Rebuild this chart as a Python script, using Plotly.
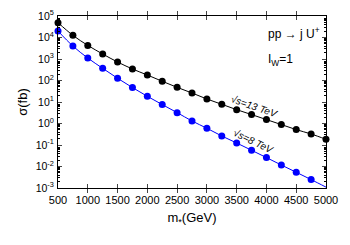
import plotly.graph_objects as go

# masse m* (GeV) e sezioni d'urto
mass = [500, 750, 1000, 1250, 1500, 1750, 2000, 2250, 2500, 2750,
        3000, 3250, 3500, 3750, 4000, 4250, 4500, 4750, 5000]
sigma_13 = [4.9e4, 1.26e4, 4.3e3, 1.71e3, 725, 343, 180, 92, 48, 26.2,
            13.8, 7.8, 4.4, 2.6, 1.52, 0.89, 0.52, 0.325, 0.184]
sigma_8 = [2.0e4, 4.0e3, 1.11e3, 369, 127, 47, 18.4, 7.6, 3.2, 1.31,
           0.60, 0.262, 0.124, 0.057, 0.026, 0.0117, 0.0054, 0.00246]
# curva 8 TeV prolungata fino a 5000 GeV (finisce sotto l'asse)
fit_mass_8 = mass
fit_sigma_8 = sigma_8 + [0.0011]

x_ticks = [500, 1000, 1500, 2000, 2500, 3000, 3500, 4000, 4500, 5000]
y_exps = [-3, -2, -1, 0, 1, 2, 3, 4, 5]
y_ticks = [10.0 ** e for e in y_exps]
y_labels = [f"10<sup>{e}</sup>" for e in y_exps]

FONT = "Liberation Sans, Arial, sans-serif"
BLUE = "#0000ff"

fig = go.Figure()

# curve
fig.add_trace(go.Scatter(x=mass, y=sigma_13, mode="lines", line_shape="spline",
                         line=dict(color="black", width=1), showlegend=False))
fig.add_trace(go.Scatter(x=fit_mass_8, y=fit_sigma_8, mode="lines", line_shape="spline",
                         line=dict(color=BLUE, width=1), showlegend=False))
# punti
fig.add_trace(go.Scatter(x=mass, y=sigma_13, mode="markers", cliponaxis=False,
                         marker=dict(color="black", size=7), showlegend=False))
fig.add_trace(go.Scatter(x=mass[:len(sigma_8)], y=sigma_8, mode="markers", cliponaxis=False,
                         marker=dict(color=BLUE, size=7), showlegend=False))
# traccia invisibile per l'asse destro (tacche minori a specchio)
fig.add_trace(go.Scatter(x=mass, y=sigma_13, yaxis="y2", mode="lines",
                         line=dict(width=0), hoverinfo="skip", showlegend=False))

# etichette nel pannello
fig.add_annotation(x=0.777, y=4.2, xref="paper", yref="y", text="pp → j U<sup>+</sup>",
                   showarrow=False, xanchor="left", font=dict(size=12, color="black"))
fig.add_annotation(x=0.777, y=2.95, xref="paper", yref="y", text="I<sub>W</sub>=1",
                   showarrow=False, xanchor="left", font=dict(size=12, color="black"))
fig.add_annotation(x=3800, y=0.80, text="<i>√s=13 TeV</i>", showarrow=False,
                   textangle=19, font=dict(size=10, color="black"))
fig.add_annotation(x=3790, y=-0.83, text="<i>√s=8 TeV</i>", showarrow=False,
                   textangle=26, font=dict(size=10, color="black"))

fig.update_xaxes(range=[500, 5000], tickvals=x_ticks, ticks="inside", ticklen=4,
                 mirror="allticks", showline=True, linecolor="black", linewidth=1,
                 showgrid=False, zeroline=False, tickfont=dict(size=11),
                 automargin=False, ticklabelstandoff=2,
                 title=dict(text="m<sub>*</sub>(GeV)", font=dict(size=13), standoff=7))
fig.update_layout(
    yaxis=dict(type="log", range=[-3, 5], tickvals=y_ticks, ticktext=y_labels,
               ticks="inside", ticklen=4, mirror="allticks", showline=True,
               linecolor="black", linewidth=1, showgrid=False, zeroline=False,
               tickfont=dict(size=10.5), automargin=False, ticklabelstandoff=1,
               minor=dict(ticks="inside", ticklen=2, dtick="D1", showgrid=False,
                          tickcolor="black"),
               title=dict(text="σ(fb)", font=dict(size=13), standoff=5)),
    yaxis2=dict(type="log", range=[-3, 5], overlaying="y", side="right",
                tickvals=y_ticks, showticklabels=False, ticks="inside", ticklen=4,
                showgrid=False, zeroline=False, showline=False,
                minor=dict(ticks="inside", ticklen=2, dtick="D1", showgrid=False,
                           tickcolor="black")),
)

# la pagina ha un margine di 8px: margini compensati
fig.update_layout(width=350, height=245, paper_bgcolor="white", plot_bgcolor="white",
                  font=dict(family=FONT, color="black"),
                  margin=dict(l=50, r=32, t=8, b=65))

fig.write_html("out.html")
